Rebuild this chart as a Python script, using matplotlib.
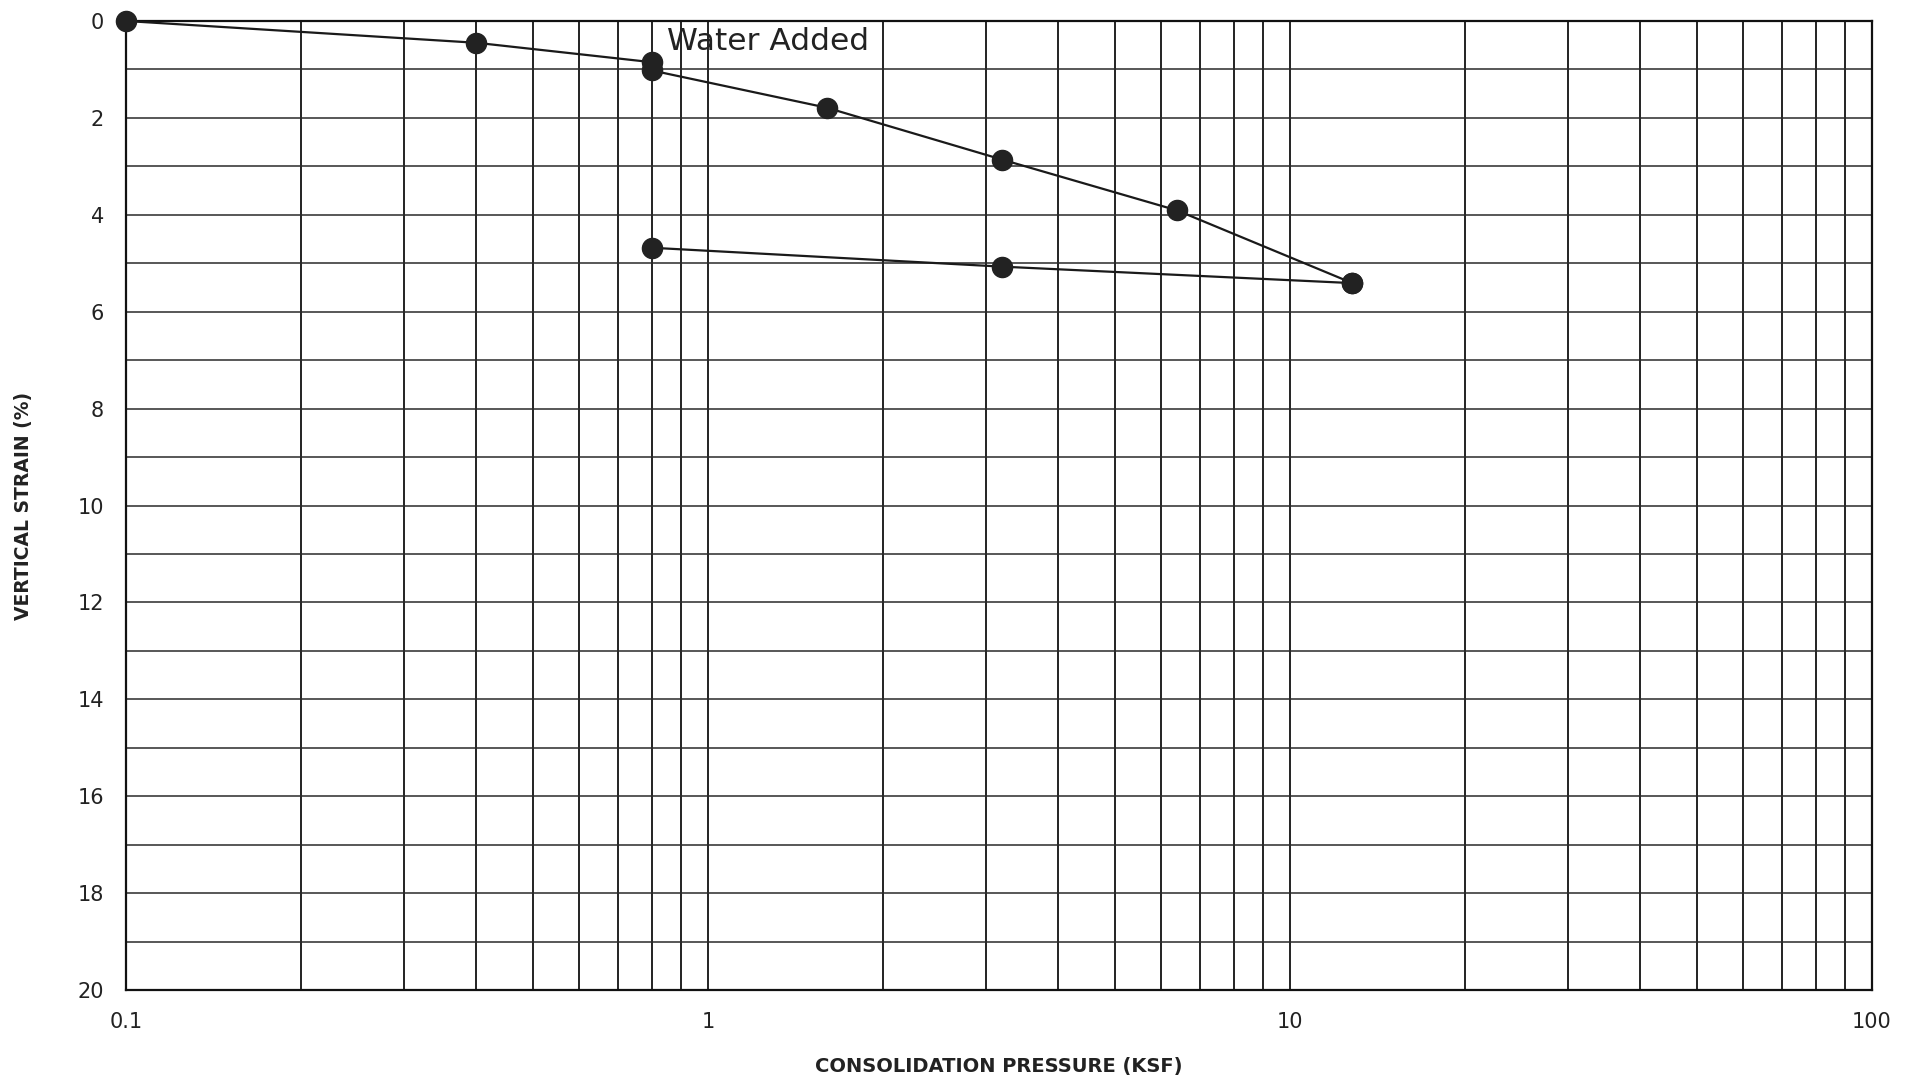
import matplotlib
matplotlib.use("Agg")
import matplotlib.pyplot as plt
import numpy as np

# Consolidation test readings: pressure (ksf) vs. vertical strain (%)
load_pressure = [0.1, 0.4, 0.8, 0.8, 1.6, 3.2, 6.4, 12.8]
load_strain = [0.0, 0.45, 0.85, 1.02, 1.79, 2.86, 3.91, 5.41]
unload_pressure = [12.8, 3.2, 0.8]
unload_strain = [5.41, 5.07, 4.68]

x_major = [0.1, 1, 10, 100]
x_major_labels = ["0.1", "1", "10", "100"]
y_major = list(range(0, 21, 2))
y_minor = list(range(1, 20, 2))

annotation = "Water Added"
annotation_pos = (0.85, 0.42)

plt.rcParams["font.family"] = ["DejaVu Sans"]

fig = plt.figure(figsize=(19.16, 10.82), dpi=100)
ax = fig.add_axes([0.0658, 0.085, 0.9112, 0.8956])

ax.set_xscale("log")
ax.set_xlim(0.1, 100)
ax.set_ylim(20, 0)

# log-cycle grid: every 1..9 within each decade
minor_x = [m * d for d in (0.1, 1, 10) for m in range(2, 10)]
ax.set_xticks(x_major)
ax.set_xticklabels(x_major_labels)
ax.set_xticks(minor_x, minor=True)
ax.xaxis.set_minor_formatter(matplotlib.ticker.NullFormatter())
ax.set_yticks(y_major)
ax.set_yticks(y_minor, minor=True)

ax.grid(which="both", axis="x", color="#111111", linewidth=1.3)
ax.grid(which="both", axis="y", color="#2a2a2a", linewidth=1.1)
ax.set_axisbelow(True)

ax.tick_params(which="both", length=0)
ax.tick_params(axis="x", labelsize=15, pad=16, colors="#222222")
ax.tick_params(axis="y", labelsize=15, pad=16, colors="#222222")

for s in ax.spines.values():
    s.set_linewidth(1.6)
    s.set_color("#111111")

ax.plot(load_pressure, load_strain, color="#1a1a1a", linewidth=1.6,
        marker="o", markersize=14.5, markerfacecolor="#222222",
        markeredgecolor="#222222", clip_on=False, zorder=5)
ax.plot(unload_pressure, unload_strain, color="#1a1a1a", linewidth=1.6,
        marker="o", markersize=14.5, markerfacecolor="#222222",
        markeredgecolor="#222222", clip_on=False, zorder=5)

ax.text(annotation_pos[0], annotation_pos[1], annotation, fontsize=22.5,
        ha="left", va="center", color="#222222", zorder=6)

ax.set_xlabel("CONSOLIDATION PRESSURE (KSF)", fontsize=14, fontweight="bold",
              color="#222222", labelpad=18)
ax.set_ylabel("VERTICAL STRAIN (%)", fontsize=13.5, fontweight="bold",
              color="#222222", labelpad=32)

fig.savefig("out.png", dpi=100, facecolor="white")
